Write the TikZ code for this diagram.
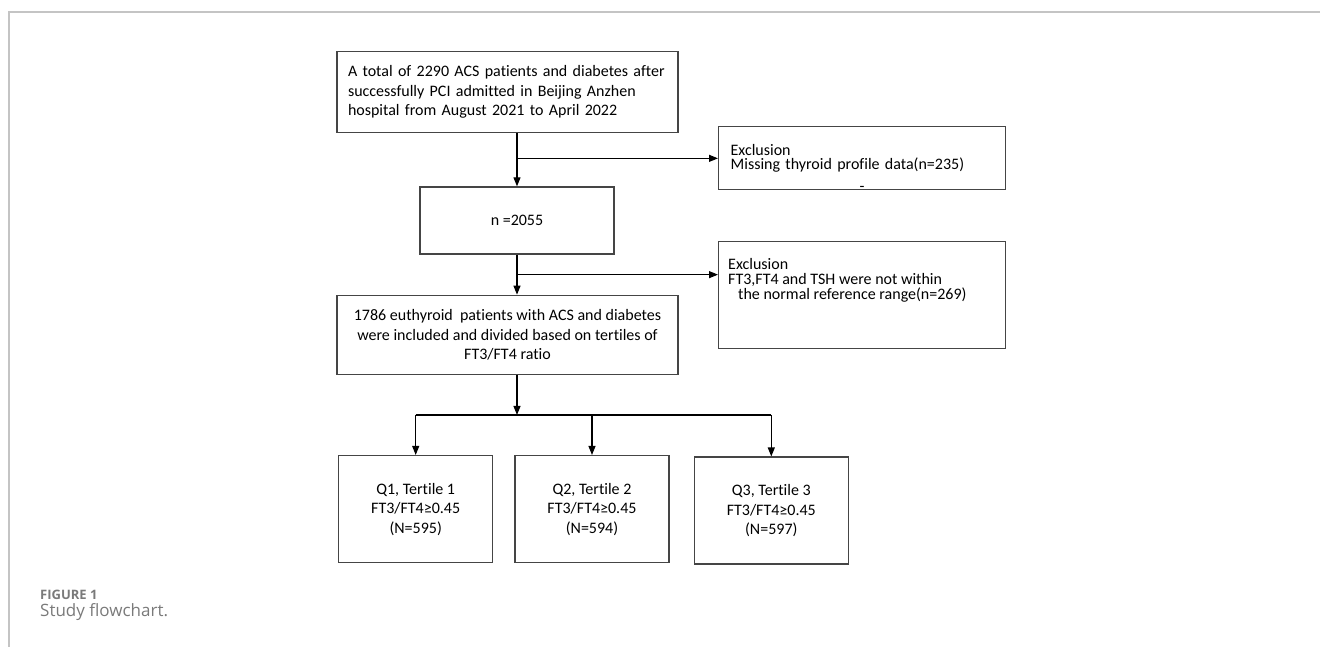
\documentclass[tikz,border=0pt]{standalone}
\usepackage{fontspec}
\setmainfont{Carlito}[Ligatures=NoCommon]
\newfontfamily\capfont{Open Sans}
\usepackage{xcolor}
\usetikzlibrary{positioning,arrows.meta,calc}
\definecolor{frameg}{HTML}{C4C4C4}
\definecolor{boxg}{HTML}{454545}
\definecolor{capg}{HTML}{7A7A7A}

\begin{document}
\begin{tikzpicture}[x=1pt, y=-1pt]
\tikzstyle{bx}=[draw=boxg, line width=1.3pt, inner xsep=11pt, inner ysep=0pt, font=\fontsize{16}{19.5}\selectfont]
\tikzstyle{exbx}=[bx, minimum width=287pt, inner xsep=12pt, font=\fontsize{16}{14.5}\selectfont]
\tikzstyle{qbx}=[bx, minimum width=154pt, minimum height=107pt, align=center]
\tikzstyle{arr}=[line width=1.1pt, -{Triangle[length=9pt,width=7pt]}]
\tikzstyle{lbl}=[inner sep=0pt, font=\fontsize{16}{19.5}\selectfont]

\useasboundingbox (0,0) rectangle (1320,647);
% page frame
\draw[frameg, line width=1.3pt] (1320,12) -- (9,12) -- (9,647);

% main column
\node[bx, minimum width=194pt, minimum height=67pt] (box2) at (517,220.5) {n =2055};
\node[bx, text width=319pt, align=left, minimum height=81pt, above=53pt of box2, xshift=-9.5pt] (box1) {A total of 2290 ACS patients and diabetes after\\successfully PCI admitted in Beijing Anzhen\\hospital from August 2021 to April 2022};
\node[bx, align=center, minimum width=341pt, minimum height=79pt, below=40pt of box2, xshift=-9.5pt] (box3) {1786 euthyroid~ patients with ACS and diabetes\\were included and divided based on tertiles of\\FT3/FT4 ratio};

\coordinate (br1) at ($(box1.south -| box2.north)+(0,25)$);
\coordinate (br2) at ($(box2.south)+(0,20)$);
\coordinate (br3) at ($(box3.south -| box2.north)+(0,40)$);

% exclusions
\node[exbx, minimum height=63pt, text width=263pt, align=left, right=201pt of br1] (excl1) {Exclusion\\Missing thyroid profile data(n=235)};
\node[lbl, anchor=base] (dash1) at ([yshift=-1pt]excl1.south) {-};
\node[exbx, minimum height=107pt, right=201pt of br2, yshift=-20.5pt] (excl2) {};
\node[lbl, font=\fontsize{16}{15}\selectfont, align=left, anchor=north west] (excl2txt) at ([xshift=10pt, yshift=-17pt]excl2.north west) {Exclusion\\FT3,FT4 and TSH were not within\\\hspace*{10pt}the normal reference range(n=269)};

% tertiles
\node[qbx, below=80pt of box3, xshift=84.5pt] (q2) {Q2, Tertile 2\\FT3/FT4≥0.45\\(N=594)};
\node[qbx, left=21pt of q2] (q1) {Q1, Tertile 1\\FT3/FT4≥0.45\\(N=595)};
\node[qbx, right=24pt of q2, yshift=-1.5pt] (q3) {Q3, Tertile 3\\FT3/FT4≥0.45\\(N=597)};

\draw[arr] (box1.south -| box2.north) -- (box2.north);
\draw[arr] (br1) -- (excl1.west);
\draw[arr] (box2.south) -- (box2.south |- box3.north);
\draw[arr] (br2) -- (br2 -| excl2.west);
\draw[arr] (box3.south -| box2.north) -- (br3);
\draw[line width=1.1pt] (br3 -| q1.north) -- (br3 -| q3.north);
\foreach \q in {q1,q2,q3} \draw[arr] (br3 -| \q.north) -- (\q.north);

% caption
\node[lbl, anchor=base west, font=\capfont\bfseries\fontsize{13}{15}\selectfont, text=capg] (fig) at (40,599) {FIGURE 1};
\node[lbl, anchor=base west, font=\capfont\fontsize{17}{20}\selectfont, text=capg] (capt) at (40,616) {Study flowchart.};
\end{tikzpicture}
\end{document}
